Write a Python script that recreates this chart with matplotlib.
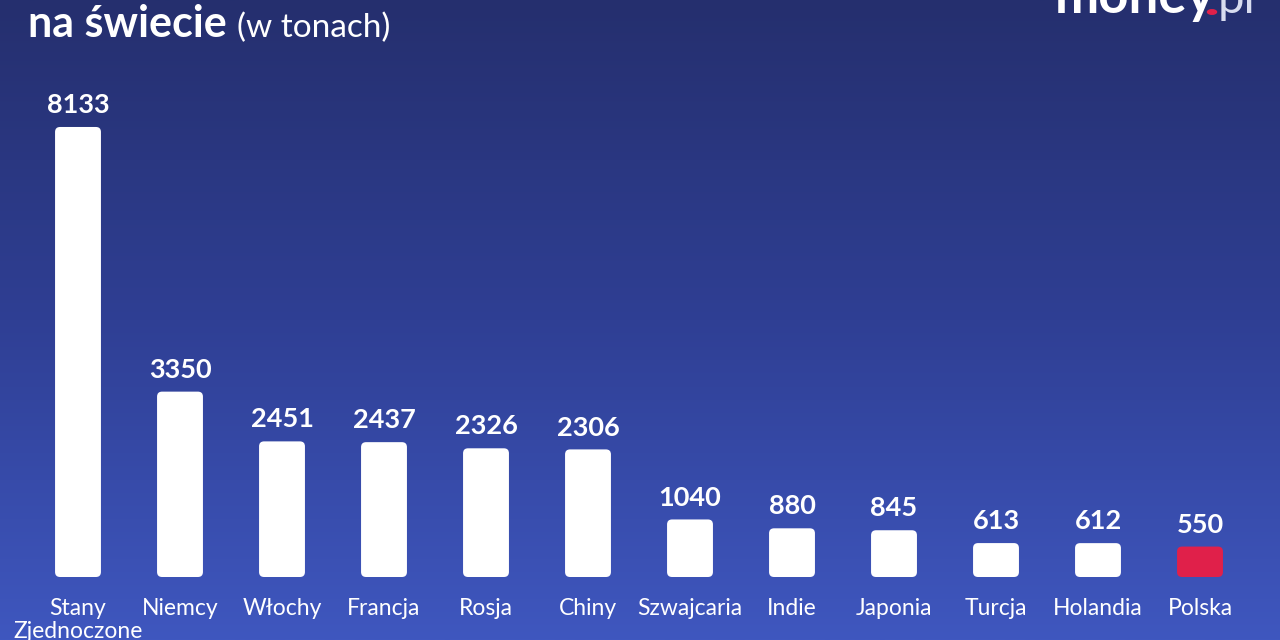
import numpy as np
import matplotlib
matplotlib.use("Agg")
import matplotlib.pyplot as plt
from matplotlib.patches import FancyBboxPatch, Circle
from matplotlib.colors import LinearSegmentedColormap

countries = ["Stany\nZjednoczone", "Niemcy", "Włochy", "Francja", "Rosja", "Chiny",
             "Szwajcaria", "Indie", "Japonia", "Turcja", "Holandia", "Polska"]
values = [8133, 3350, 2451, 2437, 2326, 2306, 1040, 880, 845, 613, 612, 550]
colors = ["#ffffff"] * 11 + ["#e0204a"]

plt.rcParams['font.family'] = ['Lato', 'DejaVu Sans']

W, H = 1280, 640
fig = plt.figure(figsize=(12.8, 6.4), dpi=100)

# background gradient
bg = fig.add_axes([0, 0, 1, 1], zorder=0)
cmap = LinearSegmentedColormap.from_list("bg", ["#252f6e", "#2f3f94", "#3f57bf"])
grad = np.linspace(0, 1, 256).reshape(-1, 1)
bg.imshow(grad, aspect="auto", cmap=cmap, extent=[0, 1, 0, 1], origin="upper")
bg.axis("off")

ax = fig.add_axes([27 / W, 1 - 577 / H, (1251 - 27) / W, 498 / H], zorder=1)
ax.set_xlim(-0.5, len(values) - 0.5)
ax.set_ylim(0, 9000)
ax.axis("off")
ax.patch.set_alpha(0)

x = np.arange(len(values))
bars = ax.bar(x, values, width=0.45, color=colors)
px_per_x = 102.0
px_per_y = 498.0 / 9000
aspect = px_per_x / px_per_y
r = 5.0 / px_per_x
for b, c in zip(bars, colors):
    b.set_visible(False)
    p = FancyBboxPatch((b.get_x(), b.get_y()), b.get_width(), b.get_height(),
                       boxstyle=f"round,pad=0,rounding_size={r}",
                       mutation_aspect=aspect, facecolor=c, edgecolor="none")
    ax.add_patch(p)

for xi, v in zip(x, values):
    ax.annotate(f"{v}", (xi, v), xytext=(0, 10), textcoords="offset points",
                ha="center", va="baseline", color="white", fontsize=19.5,
                fontweight="bold")

for xi, name in zip(x, countries):
    ax.annotate(name, (xi, 0), xytext=(0, -15), textcoords="offset points",
                ha="center", va="top", color="white", fontsize=16.5,
                linespacing=1.15)

# title (second line visible)
fig.text(28 / W, 1 - 37 / H, "na świecie", color="white", fontsize=31,
         fontweight="bold", ha="left", va="baseline")
fig.text(237 / W, 1 - 37 / H, "(w tonach)", color="white", fontsize=24,
         ha="left", va="baseline")

# logo
fig.text(1055 / W, 1 - 13 / H, "money", color="white", fontsize=38,
         fontweight="bold", ha="left", va="baseline")
fig.text(1218 / W, 1 - 13 / H, "pl", color="#d8dcef", fontsize=34,
         ha="left", va="baseline")
fig.patches.append(Circle((1212 / W, 1 - 12 / H), 4.5 / W,
                   transform=fig.transFigure, color="#e0204a", figure=fig))

fig.savefig("out.png", dpi=100)
